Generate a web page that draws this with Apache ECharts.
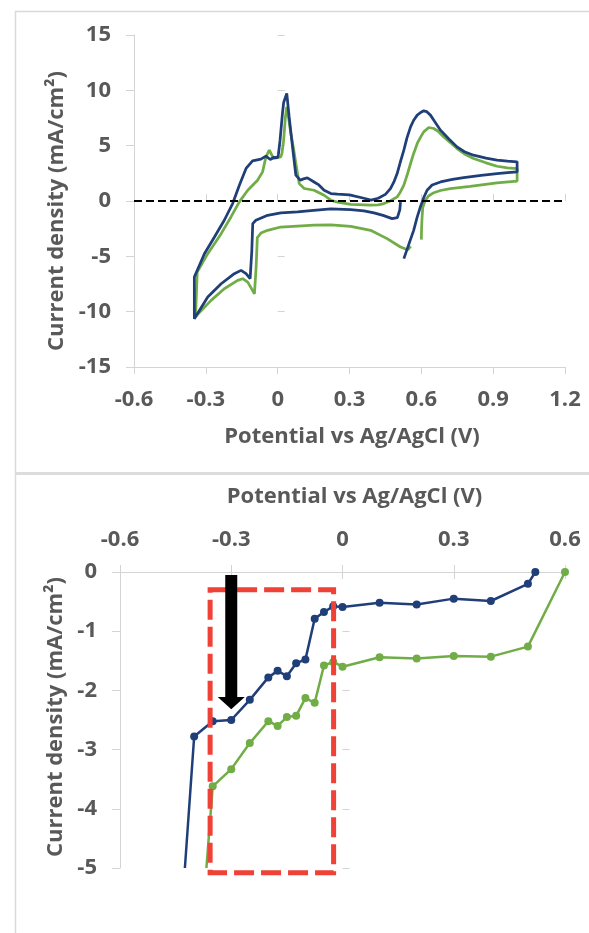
<!DOCTYPE html>
<html><head><meta charset="utf-8">
<script src="https://cdn.jsdelivr.net/npm/echarts@6/dist/echarts.min.js"></script>
<style>html,body{margin:0;padding:0;background:#fff}#c{width:589px;height:933px}</style>
</head><body><div id="c"></div>
<script>
// ---------- DATA ----------
// Top chart: cyclic voltammograms [potential V, current density mA/cm2]
const cvBlue = [
[0.527,-5.21],[0.548,-3.9],[0.568,-2.65],[0.582,-1.5],[0.596,-0.54],[0.61,0.3],[0.624,0.97],[0.645,1.45],
[0.68,1.72],[0.73,1.95],[0.777,2.12],[0.85,2.32],[0.916,2.48],[0.96,2.56],[1.0,2.63],[1.0,3.54],
[0.96,3.6],[0.916,3.69],[0.87,3.88],[0.818,4.14],[0.78,4.45],[0.749,4.89],[0.715,5.6],[0.68,6.4],
[0.655,7.2],[0.638,7.76],[0.622,8.08],[0.61,8.15],[0.597,8.0],[0.583,7.76],[0.568,7.3],[0.555,6.7],
[0.54,5.7],[0.527,4.59],[0.512,3.5],[0.499,2.48],[0.485,1.7],[0.471,1.12],[0.45,0.6],[0.42,0.25],
[0.39,0.08],[0.36,0.25],[0.3,0.55],[0.25,0.62],[0.222,0.67],[0.194,0.97],[0.172,1.45],[0.152,1.72],
[0.124,2.09],[0.108,2.0],[0.094,1.88],[0.076,2.33],[0.062,4.89],[0.048,7.6],[0.038,9.72],[0.031,9.87],
[0.025,8.9],[0.02,7.91],[0.01,5.5],[0.003,4.2],[0.0,3.93],[-0.015,3.95],[-0.031,3.75],[-0.049,4.05],
[-0.07,3.78],[-0.105,3.63],[-0.132,2.94],[-0.16,1.43],[-0.188,-0.23],[-0.223,-1.74],[-0.264,-3.25],
[-0.306,-4.76],[-0.348,-6.87],[-0.348,-10.64],[-0.292,-8.68],[-0.236,-7.48],[-0.181,-6.57],[-0.153,-6.27],
[-0.132,-6.57],[-0.115,-7.02],[-0.108,-4.5],[-0.104,-2.04],[-0.091,-1.74],[-0.042,-1.29],[0.013,-1.08],
[0.083,-0.99],[0.15,-0.85],[0.222,-0.72],[0.305,-0.78],[0.36,-0.9],[0.402,-1.08],[0.44,-1.3],
[0.478,-1.59],[0.5,-1.5],[0.506,-1.38],[0.51,-0.8],[0.513,-0.1]
];
const cvGreen = [
[0.6,-3.49],[0.601,-2.5],[0.603,-1.5],[0.606,-0.6],[0.615,0.0],[0.63,0.45],[0.652,0.75],[0.68,0.95],
[0.721,1.12],[0.804,1.33],[0.916,1.63],[1.0,1.8],[1.0,2.93],[0.96,3.0],[0.916,3.14],[0.87,3.45],
[0.818,3.84],[0.78,4.25],[0.749,4.74],[0.72,5.3],[0.693,5.8],[0.67,6.3],[0.652,6.55],[0.631,6.64],
[0.61,6.25],[0.595,5.7],[0.583,5.2],[0.568,4.3],[0.555,3.39],[0.54,2.3],[0.527,1.43],[0.512,0.8],
[0.499,0.37],[0.47,0.0],[0.444,-0.23],[0.42,-0.35],[0.388,-0.38],[0.305,-0.3],[0.25,-0.1],[0.222,0.07],
[0.194,0.52],[0.152,0.97],[0.111,1.13],[0.09,1.57],[0.076,3.39],[0.065,4.9],[0.055,6.1],[0.045,7.6],
[0.038,8.51],[0.032,7.5],[0.025,5.5],[0.018,4.3],[0.013,3.99],[-0.017,3.84],[-0.028,4.3],[-0.035,4.59],
[-0.04,4.53],[-0.049,3.99],[-0.063,2.63],[-0.084,1.88],[-0.125,0.97],[-0.16,-0.08],[-0.195,-1.44],
[-0.236,-2.95],[-0.292,-4.76],[-0.336,-6.42],[-0.343,-10.45],[-0.278,-8.98],[-0.223,-7.93],
[-0.167,-7.17],[-0.146,-7.02],[-0.125,-7.33],[-0.105,-8.08],[-0.097,-8.4],[-0.09,-6.0],[-0.085,-3.3],
[-0.07,-2.9],[-0.042,-2.65],[0.013,-2.35],[0.152,-2.19],[0.222,-2.15],[0.305,-2.29],[0.388,-2.65],
[0.457,-3.4],[0.513,-4.16],[0.543,-4.4],[0.556,-4.1]
];
const zeroRef = [[-0.6,0],[1.2,0]];

// Bottom chart: current density vs potential points
const lsvBlueX = [-0.425,-0.4,-0.35,-0.3,-0.25,-0.2,-0.175,-0.15,-0.125,-0.1,-0.075,-0.05,-0.025,0,0.1,0.2,0.3,0.4,0.5,0.52];
const lsvBlueY = [-5,-2.78,-2.52,-2.5,-2.16,-1.78,-1.67,-1.76,-1.54,-1.48,-0.79,-0.675,-0.58,-0.59,-0.52,-0.55,-0.45,-0.49,-0.2,0];
const lsvGreenX = [-0.367,-0.35,-0.3,-0.25,-0.2,-0.175,-0.15,-0.125,-0.1,-0.075,-0.05,-0.025,0,0.1,0.2,0.3,0.4,0.5,0.6];
const lsvGreenY = [-5,-3.62,-3.33,-2.89,-2.52,-2.6,-2.45,-2.43,-2.13,-2.21,-1.58,-1.52,-1.6,-1.44,-1.46,-1.42,-1.43,-1.26,0];

// Axis ranges
const topX = {min:-0.6, max:1.2, interval:0.3};
const topY = {min:-15, max:15, interval:5};
const botX = {min:-0.6, max:0.6, interval:0.3};
const botY = {min:-5, max:0, interval:1};

// Annotations (in bottom-chart data units)
const boxFrom = [-0.357,-0.3], boxTo = [-0.024,-5.08];
const arrowX = -0.3, arrowTopY = -0.05, arrowHeadY = -2.11, arrowTipY = -2.32;

// ---------- CHART ----------
const BLUE = '#203f78', GREEN = '#70ad47', GRAY = '#d4d4d4', TXT = '#595959';
const FONT = 'Open Sans';
const FS = 22;
const lbl = {color:TXT, fontFamily:FONT, fontWeight:'bold', fontSize:FS};
const nameStyle = (pad) => ({color:TXT, fontFamily:FONT, fontWeight:'bold', fontSize:FS, padding:pad});
const fmt = v => (Math.abs(v) < 1e-9 ? '0' : String(+v.toFixed(2)));

function fmtPts(xs, ys){
  return xs.map((x,i)=> i===0 ? {value:[x,ys[i]], symbol:'none'} : [x,ys[i]]);
}
function ghostAxis(base, pos, grid){
  return Object.assign({}, base, {type:'value', position:pos, gridIndex:grid,
    axisLine:{show:false}, axisLabel:{show:false}, splitLine:{show:false},
    axisTick:{show:true, inside:true, length:7, lineStyle:{color:GRAY, width:1}}});
}

const chart = echarts.init(document.getElementById('c'), null, {renderer:'canvas'});
const option = {
  animation:false,
  backgroundColor:'#fff',
  grid:[
    {left:134, top:35, width:431, height:332, outerBoundsMode:'none'},
    {left:120, top:572, width:445, height:296, outerBoundsMode:'none'}
  ],
  xAxis:[
    Object.assign({}, topX, {type:'value', gridIndex:0, position:'bottom',
      name:'Potential vs Ag/AgCl (V)', nameLocation:'middle', nameGap:59, nameTextStyle:nameStyle([0,0,0,5]),
      axisLine:{show:true, onZero:false, lineStyle:{color:GRAY, width:1}},
      axisTick:{show:true, length:7, lineStyle:{color:GRAY, width:1}},
      axisLabel:Object.assign({margin:22, formatter:fmt}, lbl),
      splitLine:{show:false}}),
    ghostAxis(topX, 'bottom', 0),
    Object.assign({}, botX, {type:'value', gridIndex:1, position:'top',
      name:'Potential vs Ag/AgCl (V)', nameLocation:'middle', nameGap:64, nameTextStyle:nameStyle([0,0,0,24]),
      axisLine:{show:true, onZero:false, lineStyle:{color:GRAY, width:1}},
      axisTick:{show:true, length:7, lineStyle:{color:GRAY, width:1}},
      axisLabel:Object.assign({margin:21, formatter:fmt}, lbl),
      splitLine:{show:false}}),
    ghostAxis(botX, 'top', 1)
  ],
  yAxis:[
    Object.assign({}, topY, {type:'value', gridIndex:0, position:'left',
      name:'Current density (mA/cm²)', nameLocation:'middle', nameGap:62, nameTextStyle:nameStyle([0,20,0,0]),
      axisLine:{show:true, onZero:false, lineStyle:{color:GRAY, width:1}},
      axisTick:{show:true, length:8, lineStyle:{color:GRAY, width:1}},
      axisLabel:Object.assign({margin:23, formatter:fmt}, lbl),
      splitLine:{show:false}}),
    ghostAxis(topY, 'left', 0),
    Object.assign({}, botY, {type:'value', gridIndex:1, position:'left',
      name:'Current density (mA/cm²)', nameLocation:'middle', nameGap:48, nameTextStyle:nameStyle([0,0,0,6]),
      axisLine:{show:true, onZero:false, lineStyle:{color:GRAY, width:1}},
      axisTick:{show:true, length:8, lineStyle:{color:GRAY, width:1}},
      axisLabel:Object.assign({margin:23, formatter:fmt}, lbl),
      splitLine:{show:false}}),
    ghostAxis(botY, 'left', 1)
  ],
  series:[
    {type:'line', xAxisIndex:0, yAxisIndex:0, data:cvGreen, showSymbol:false, symbol:'none',
      lineStyle:{color:GREEN, width:2.75}, itemStyle:{color:GREEN}, z:2},
    {type:'line', xAxisIndex:0, yAxisIndex:0, data:cvBlue, showSymbol:false, symbol:'none',
      lineStyle:{color:BLUE, width:2.75}, itemStyle:{color:BLUE}, z:3},
    {type:'line', xAxisIndex:0, yAxisIndex:0, data:zeroRef, showSymbol:false, symbol:'none',
      lineStyle:{color:'#000', width:2, type:[8,4]}, z:4},
    {type:'line', xAxisIndex:2, yAxisIndex:2, data:fmtPts(lsvBlueX, lsvBlueY), symbol:'circle', symbolSize:8,
      showAllSymbol:true, lineStyle:{color:BLUE, width:2.5}, itemStyle:{color:BLUE}, z:3, clip:true},
    {type:'line', xAxisIndex:2, yAxisIndex:2, data:fmtPts(lsvGreenX, lsvGreenY), symbol:'circle', symbolSize:8,
      showAllSymbol:true, lineStyle:{color:GREEN, width:2.5}, itemStyle:{color:GREEN}, z:2, clip:true}
  ]
};
chart.setOption(option);

// annotations positioned through the bottom chart's scales
const f = {seriesIndex:3};
const b0 = chart.convertToPixel(f, boxFrom), b1 = chart.convertToPixel(f, boxTo);
const aT = chart.convertToPixel(f, [arrowX, arrowTopY]);
const aH = chart.convertToPixel(f, [arrowX, arrowHeadY]);
const aP = chart.convertToPixel(f, [arrowX, arrowTipY]);
const cx = aT[0], sw = 6, hw = 13.5;
chart.setOption({graphic:[
  {type:'line', shape:{x1:15.5, y1:11, x2:15.5, y2:933}, style:{stroke:'#d9d9d9', lineWidth:1.5}, silent:true},
  {type:'line', shape:{x1:15, y1:11.5, x2:589, y2:11.5}, style:{stroke:'#d9d9d9', lineWidth:1.5}, silent:true},
  {type:'rect', shape:{x:15, y:472, width:574, height:3}, style:{fill:'#dcdcdc'}, silent:true},
  {type:'rect', z:100, shape:{x:b0[0], y:b0[1], width:b1[0]-b0[0], height:b1[1]-b0[1]},
    style:{fill:'none', stroke:'#ef4136', lineWidth:5, lineDash:[20,7]}, silent:true},
  {type:'polygon', z:101, shape:{points:[[cx-sw,aT[1]],[cx+sw,aT[1]],[cx+sw,aH[1]],[cx+hw,aH[1]],[cx,aP[1]],[cx-hw,aH[1]],[cx-sw,aH[1]]]},
    style:{fill:'#000'}, silent:true}
]});
</script></body></html>
